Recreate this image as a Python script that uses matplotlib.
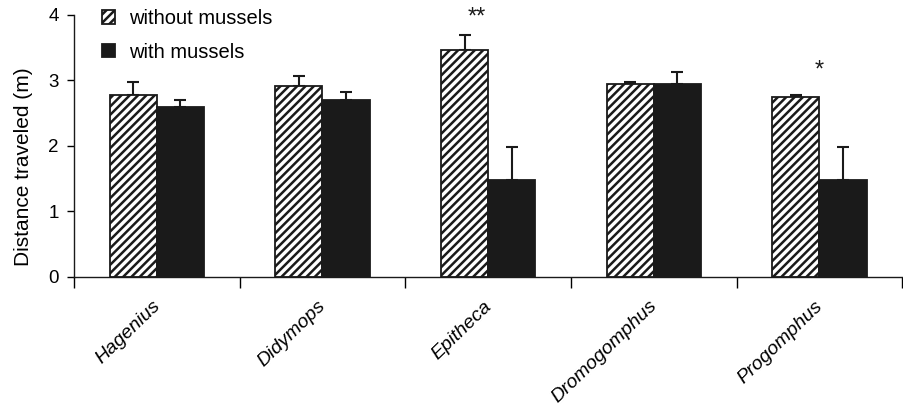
import numpy as np
import matplotlib.pyplot as plt

plt.rcParams['font.family'] = ['Liberation Sans', 'DejaVu Sans']
plt.rcParams['hatch.linewidth'] = 1.8

# Data
genera = ['Hagenius', 'Didymops', 'Epitheca', 'Dromogomphus', 'Progomphus']
without_mussels = [2.78, 2.92, 3.47, 2.94, 2.75]
without_err = [0.20, 0.15, 0.22, 0.03, 0.03]
with_mussels = [2.60, 2.70, 1.48, 2.94, 1.48]
with_err = [0.10, 0.12, 0.50, 0.19, 0.50]
signif = {'Epitheca': ('**', -0.07, 3.96), 'Progomphus': ('*', 0.0, 3.15)}

x = np.arange(len(genera))
w = 0.285

fig = plt.figure(figsize=(9.04, 4.12), dpi=100)
ax = fig.add_axes([0.0819, 0.328, 0.9161, 0.6356])

ax.bar(x - w / 2, without_mussels, w, color='white', edgecolor='#1a1a1a',
       hatch='////', linewidth=1.3, label='without mussels', zorder=2)
ax.bar(x + w / 2, with_mussels, w, color='#1a1a1a', edgecolor='#1a1a1a',
       linewidth=1.3, label='with mussels', zorder=2)

ax.errorbar(x - w / 2, without_mussels, yerr=[np.zeros(len(x)), without_err],
            fmt='none', ecolor='#1a1a1a', elinewidth=1.5, capsize=4,
            capthick=1.5, zorder=1)
ax.errorbar(x + w / 2, with_mussels, yerr=[np.zeros(len(x)), with_err],
            fmt='none', ecolor='#1a1a1a', elinewidth=1.5, capsize=4,
            capthick=1.5, zorder=1)

for name, (mark, dx, yv) in signif.items():
    i = genera.index(name)
    ax.text(i + dx, yv, mark, ha='center', va='center', fontsize=17,
            color='#1a1a1a')

ax.set_xlim(-0.5, len(genera) - 0.5)
ax.set_ylim(0, 4)
ax.set_yticks([0, 1, 2, 3, 4])
ax.set_xticks(np.arange(-0.5, len(genera)), labels=[])
ax.set_xticks(x - 0.03, minor=True)
ax.set_xticklabels(genera, minor=True, rotation=44, ha='right',
                   rotation_mode='anchor', style='italic', fontsize=14)
ax.tick_params(axis='x', which='minor', length=0, pad=15)
ax.tick_params(axis='x', which='major', length=8, width=1, direction='out')
ax.tick_params(axis='y', length=5, width=1, labelsize=13.5, pad=6)
ax.set_ylabel('Distance traveled (m)', fontsize=15)
ax.yaxis.set_label_coords(-0.0495, 0.42)

for s in ['top', 'right']:
    ax.spines[s].set_visible(False)
for s in ['left', 'bottom']:
    ax.spines[s].set_linewidth(1)
    ax.spines[s].set_color('#1a1a1a')

ax.legend(loc='upper left', bbox_to_anchor=(102 / 904, 1 - 9 / 412),
          bbox_transform=fig.transFigure, frameon=False, fontsize=14.5,
          handlelength=0.65, handleheight=0.65, handletextpad=0.7,
          labelspacing=0.72, borderpad=0, borderaxespad=0)

fig.savefig('out.png', dpi=100)
